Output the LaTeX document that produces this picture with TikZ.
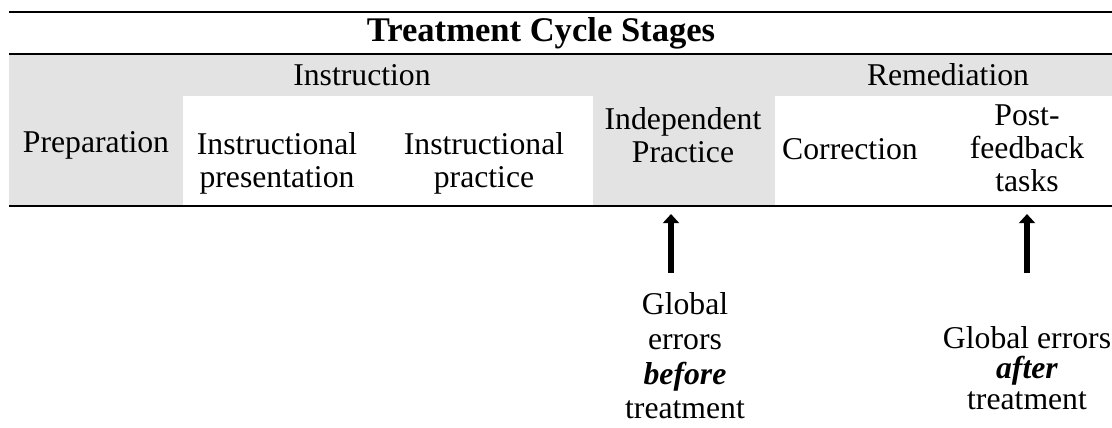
\documentclass[tikz,border=0pt]{standalone}
\usepackage{fontspec}
\setmainfont{Liberation Serif}
\usetikzlibrary{arrows.meta,positioning}

\begin{document}
\begin{tikzpicture}[x=0.347pt, y=-0.347pt,
		cell/.style={align=center, inner sep=0pt, font=\fontsize{11}{11.4}\selectfont},
		banner/.style={inner sep=0pt, font=\fontsize{12}{14}\selectfont\bfseries},
		errtext/.style={align=center, inner sep=0pt, font=\fontsize{11}{12}\selectfont},
		rule/.style={line width=0.8pt},
		shade/.style={fill=black!11},
		pointer/.style={line width=2.1pt, -{Triangle[length=3.2pt, width=5.6pt]}}]
		\useasboundingbox (0,0) rectangle (1112,427);
		\fill[shade] (9,55) rectangle (1112,96);
		\fill[shade] (9,96) rectangle (183,206);
		\fill[shade] (593,96) rectangle (775,206);
		\draw[rule] (9,12) -- (1112,12);
		\draw[rule] (9,54) -- (1112,54);
		\draw[rule] (9,206) -- (1112,206);
		\node[banner] (title) at (541,33) {Treatment Cycle Stages};
		\node[cell] (instr) at (362,75) {Instruction};
		\node[cell] (remed) at (948,75) {Remediation};
		\node[cell] (prep) at (96,145) {Preparation};
		\node[cell] (pres) at (277,163) {Instructional\\presentation};
		\node[cell] (ipract) at (484,163) {Instructional\\practice};
		\node[cell] (indep) at (683,135) {Independent\\Practice};
		\node[cell] (corr) at (850,149) {Correction};
		\node[cell] (post) at (1027,148) {Post-\\feedback\\tasks};
		\coordinate (beforetip) at (671,214);
		\coordinate (beforetail) at (671,273);
		\coordinate (aftertip) at (1027,214);
		\coordinate (aftertail) at (1027,273);
		\draw[pointer] (beforetail) -- (beforetip);
		\draw[pointer] (aftertail) -- (aftertip);
		\node[errtext] (before) at (685,356) {Global\\errors\\\textbf{\textit{before}}\\treatment};
		\node[errtext, font=\fontsize{11}{10.6}\selectfont] (after) at (1027,368) {Global errors\\\textbf{\textit{after}}\\treatment};
	\end{tikzpicture}
\end{document}
